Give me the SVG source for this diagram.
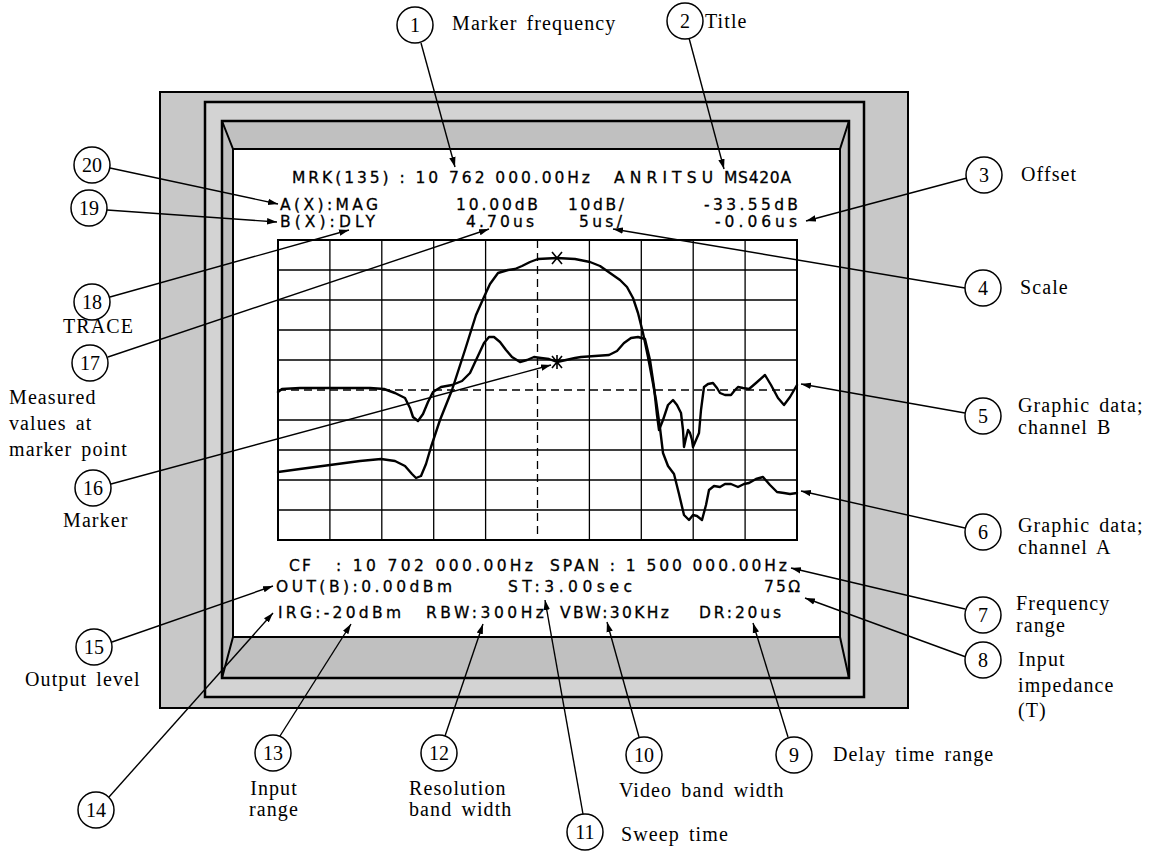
<svg xmlns="http://www.w3.org/2000/svg" width="1156" height="854" viewBox="0 0 1156 854">
<defs>
<marker id="ah" markerUnits="userSpaceOnUse" markerWidth="11" markerHeight="8" refX="10" refY="4" orient="auto"><path d="M0,0.8 L10,4 L0,7.2 z" fill="#000"/></marker>
</defs>
<style>
.lbl{font-family:"Liberation Serif","Times New Roman",serif;font-size:20px;fill:#000;letter-spacing:1.1px;word-spacing:3px}
.num{font-family:"Liberation Serif","Times New Roman",serif;font-size:20px;fill:#000;text-anchor:middle}
.circ{fill:#fff;stroke:#000;stroke-width:1.5}
.scr{font-family:"DejaVu Sans","Liberation Sans",sans-serif;font-size:15.5px;fill:#000;stroke:#000;stroke-width:0.3}
.con{fill:none;stroke:#000;stroke-width:1.4;marker-end:url(#ah)}
.grid{stroke:#000;stroke-width:1.3;fill:none}
.dash{stroke:#000;stroke-width:1.3;stroke-dasharray:8 5;fill:none}
.trace{fill:none;stroke:#000;stroke-width:2.4;stroke-linejoin:round;stroke-linecap:round}
</style>
<rect width="1156" height="854" fill="#fff"/>

<g id="frame">
<rect x="160" y="92" width="748" height="616" fill="#c8c8c8" stroke="#000" stroke-width="2"/>
<rect x="205" y="102" width="659" height="595" fill="#d3d3d3" stroke="#000" stroke-width="2.5"/>
<rect x="222" y="121" width="627" height="557" fill="#c0c0c0" stroke="#000" stroke-width="2.5"/>
<rect x="233" y="149" width="607" height="488" fill="#fff" stroke="#000" stroke-width="2"/>
<path d="M222,121 L233,149 M849,121 L840,149 M222,678 L233,637 M849,678 L840,637" stroke="#000" stroke-width="2" fill="none"/>
</g>

<g id="screen-text">
<text class="scr" x="292" y="183" textLength="298" lengthAdjust="spacing">MRK(135) : 10 762 000.00Hz</text>
<text class="scr" x="614" y="183" textLength="99" lengthAdjust="spacing">ANRITSU</text>
<text class="scr" x="724" y="183" textLength="67" lengthAdjust="spacing">MS420A</text>
<text class="scr" x="280" y="210" textLength="98" lengthAdjust="spacing">A(X):MAG</text>
<text class="scr" x="456" y="210" textLength="82" lengthAdjust="spacing">10.00dB</text>
<text class="scr" x="568" y="210" textLength="56" lengthAdjust="spacing">10dB/</text>
<text class="scr" x="704" y="210" textLength="94" lengthAdjust="spacing">-33.55dB</text>
<text class="scr" x="280" y="227" textLength="95" lengthAdjust="spacing">B(X):DLY</text>
<text class="scr" x="466" y="227" textLength="68" lengthAdjust="spacing">4.70us</text>
<text class="scr" x="579" y="227" textLength="43" lengthAdjust="spacing">5us/</text>
<text class="scr" x="715" y="227" textLength="82" lengthAdjust="spacing">-0.06us</text>
<text class="scr" x="289" y="571" textLength="22" lengthAdjust="spacing">CF</text>
<text class="scr" x="336" y="571" textLength="197" lengthAdjust="spacing">: 10 702 000.00Hz</text>
<text class="scr" x="550" y="571" textLength="237" lengthAdjust="spacing">SPAN : 1 500 000.00Hz</text>
<text class="scr" x="276" y="592" textLength="176" lengthAdjust="spacing">OUT(B):0.00dBm</text>
<text class="scr" x="508" y="592" textLength="124" lengthAdjust="spacing">ST:3.00sec</text>
<text class="scr" x="764" y="592" textLength="36" lengthAdjust="spacing">75Ω</text>
<text class="scr" x="278" y="618" textLength="123" lengthAdjust="spacing">IRG:-20dBm</text>
<text class="scr" x="426" y="618" textLength="118" lengthAdjust="spacing">RBW:300Hz</text>
<text class="scr" x="560" y="618" textLength="109" lengthAdjust="spacing">VBW:30KHz</text>
<text class="scr" x="699" y="618" textLength="82" lengthAdjust="spacing">DR:20us</text>
</g>

<g id="graph">
<path class="grid" d="M329.9,240V540 M381.8,240V540 M433.7,240V540 M485.6,240V540 M589.4,240V540 M641.3,240V540 M693.2,240V540 M745.1,240V540"/>
<path class="grid" d="M278,270H797 M278,300H797 M278,330H797 M278,360H797 M278,420H797 M278,450H797 M278,480H797 M278,510H797"/>
<path class="dash" d="M537.5,240V540 M278,390H797"/>
<rect x="278" y="240" width="519" height="300" fill="none" stroke="#000" stroke-width="2"/>
<polyline class="trace" points="278,472 300,469 330,465 360,461 381,459 395,461 405,466 412,474 416,478 421,476 426,464 431,447 440,420 452,390 465,350 476,315 484,297 490,284 498,273 508,270 515,269 522,266 530,262 538,259 557,258 575,259 590,262 600,266 610,273 620,280 627,287 633,298 638,313 643,333 648,357 652,378 656,400 660,428 663,453 668,466 674,474 679,494 684,515 689,520 693,515 697,516 702,520 706,505 709,490 714,486 720,487 725,484 731,484 738,487 744,484 749,483 756,479 763,477 770,485 777,492 784,493 790,494 797,493"/>
<polyline class="trace" points="278,392 282,389 300,388 340,388 370,388 384,389 395,393 405,398 410,408 413,417 418,421 423,414 428,402 433,392 441,387 452,385 462,381 470,373 477,358 484,343 489,337 494,337 500,342 506,350 512,357 520,362 527,360 534,357 541,358 549,359 557,362 566,360 575,358 581,357 595,356 609,355 617,351 624,343 631,338 638,337 645,339 650,360 654,387 657,415 659,430 663,420 668,405 673,400 677,405 681,413 683,430 684,447 686,438 688,430 690,433 692,440 693,447 696,440 699,433 701,410 704,387 708,384 713,383 717,388 720,393 725,395 731,395 735,390 738,387 743,388 749,389 756,383 765,375 771,385 778,398 784,405 790,397 797,385"/>
<path d="M552,252 L562,264 M562,252 L552,264" stroke="#000" stroke-width="1.6"/>
<path d="M552,356 L562,368 M562,356 L552,368 M557,355 L557,369" stroke="#000" stroke-width="1.6"/>
</g>

<g id="connectors">
<line class="con" x1="421" y1="43" x2="455" y2="167"/>
<line class="con" x1="689" y1="38" x2="724" y2="169"/>
<line class="con" x1="967" y1="178" x2="806" y2="221"/>
<line class="con" x1="965" y1="288" x2="613" y2="229"/>
<line class="con" x1="965" y1="413" x2="801" y2="384"/>
<line class="con" x1="965" y1="528" x2="801" y2="491"/>
<line class="con" x1="965" y1="609" x2="791" y2="568"/>
<line class="con" x1="966" y1="657" x2="805" y2="598"/>
<line class="con" x1="788" y1="737" x2="753" y2="623"/>
<line class="con" x1="639" y1="737" x2="607" y2="622"/>
<line class="con" x1="583" y1="814" x2="545" y2="600"/>
<line class="con" x1="445" y1="736" x2="483" y2="624"/>
<line class="con" x1="280" y1="736" x2="351" y2="624"/>
<line class="con" x1="109" y1="797" x2="273" y2="613"/>
<line class="con" x1="112" y1="642" x2="273" y2="586"/>
<line class="con" x1="111" y1="484" x2="551" y2="365"/>
<line class="con" x1="108" y1="357" x2="489" y2="229"/>
<line class="con" x1="110" y1="297" x2="349" y2="230"/>
<line class="con" x1="107" y1="210" x2="277" y2="222"/>
<line class="con" x1="110" y1="168" x2="278" y2="204"/>
</g>

<g id="n1"><circle class="circ" cx="415" cy="25" r="18"/><text class="num" x="415" y="32">1</text><text class="lbl" x="452" y="30">Marker frequency</text></g>
<g id="n2"><circle class="circ" cx="685" cy="21" r="18"/><text class="num" x="685" y="28">2</text><text class="lbl" x="705" y="28">Title</text></g>
<g id="n3"><circle class="circ" cx="984" cy="175" r="18"/><text class="num" x="984" y="182">3</text><text class="lbl" x="1021" y="181">Offset</text></g>
<g id="n4"><circle class="circ" cx="983" cy="288" r="18"/><text class="num" x="983" y="295">4</text><text class="lbl" x="1020" y="294">Scale</text></g>
<g id="n5"><circle class="circ" cx="983" cy="416" r="18"/><text class="num" x="983" y="423">5</text><text class="lbl" x="1018" y="412">Graphic data;</text><text class="lbl" x="1018" y="434">channel B</text></g>
<g id="n6"><circle class="circ" cx="983" cy="532" r="18"/><text class="num" x="983" y="539">6</text><text class="lbl" x="1018" y="532">Graphic data;</text><text class="lbl" x="1018" y="554">channel A</text></g>
<g id="n7"><circle class="circ" cx="983" cy="615" r="18"/><text class="num" x="983" y="622">7</text><text class="lbl" x="1016" y="610">Frequency</text><text class="lbl" x="1016" y="632">range</text></g>
<g id="n8"><circle class="circ" cx="983" cy="660" r="18"/><text class="num" x="983" y="667">8</text><text class="lbl" x="1018" y="666">Input</text><text class="lbl" x="1018" y="692">impedance</text><text class="lbl" x="1018" y="717">(T)</text></g>
<g id="n9"><circle class="circ" cx="794" cy="755" r="18"/><text class="num" x="794" y="762">9</text><text class="lbl" x="833" y="761">Delay time range</text></g>
<g id="n10"><circle class="circ" cx="644" cy="755" r="18"/><text class="num" x="644" y="762">10</text><text class="lbl" x="619" y="797">Video band width</text></g>
<g id="n11"><circle class="circ" cx="585" cy="832" r="18"/><text class="num" x="585" y="839">11</text><text class="lbl" x="621" y="841">Sweep time</text></g>
<g id="n12"><circle class="circ" cx="439" cy="753" r="18"/><text class="num" x="439" y="760">12</text><text class="lbl" x="409" y="795">Resolution</text><text class="lbl" x="409" y="816">band width</text></g>
<g id="n13"><circle class="circ" cx="273" cy="753" r="18"/><text class="num" x="273" y="760">13</text><text class="lbl" x="274" y="795" text-anchor="middle">Input</text><text class="lbl" x="274" y="816" text-anchor="middle">range</text></g>
<g id="n14"><circle class="circ" cx="96" cy="810" r="18"/><text class="num" x="96" y="817">14</text></g>
<g id="n15"><circle class="circ" cx="94" cy="647" r="18"/><text class="num" x="94" y="654">15</text><text class="lbl" x="25" y="686">Output level</text></g>
<g id="n16"><circle class="circ" cx="93" cy="488" r="18"/><text class="num" x="93" y="495">16</text><text class="lbl" x="63" y="527">Marker</text></g>
<g id="n17"><circle class="circ" cx="90" cy="363" r="18"/><text class="num" x="90" y="370">17</text><text class="lbl" x="9" y="404">Measured</text><text class="lbl" x="9" y="430">values at</text><text class="lbl" x="9" y="456">marker point</text></g>
<g id="n18"><circle class="circ" cx="92" cy="302" r="18"/><text class="num" x="92" y="309">18</text><text class="lbl" x="63" y="333">TRACE</text></g>
<g id="n19"><circle class="circ" cx="89" cy="208" r="18"/><text class="num" x="89" y="215">19</text></g>
<g id="n20"><circle class="circ" cx="92" cy="165" r="18"/><text class="num" x="92" y="172">20</text></g>
</svg>
